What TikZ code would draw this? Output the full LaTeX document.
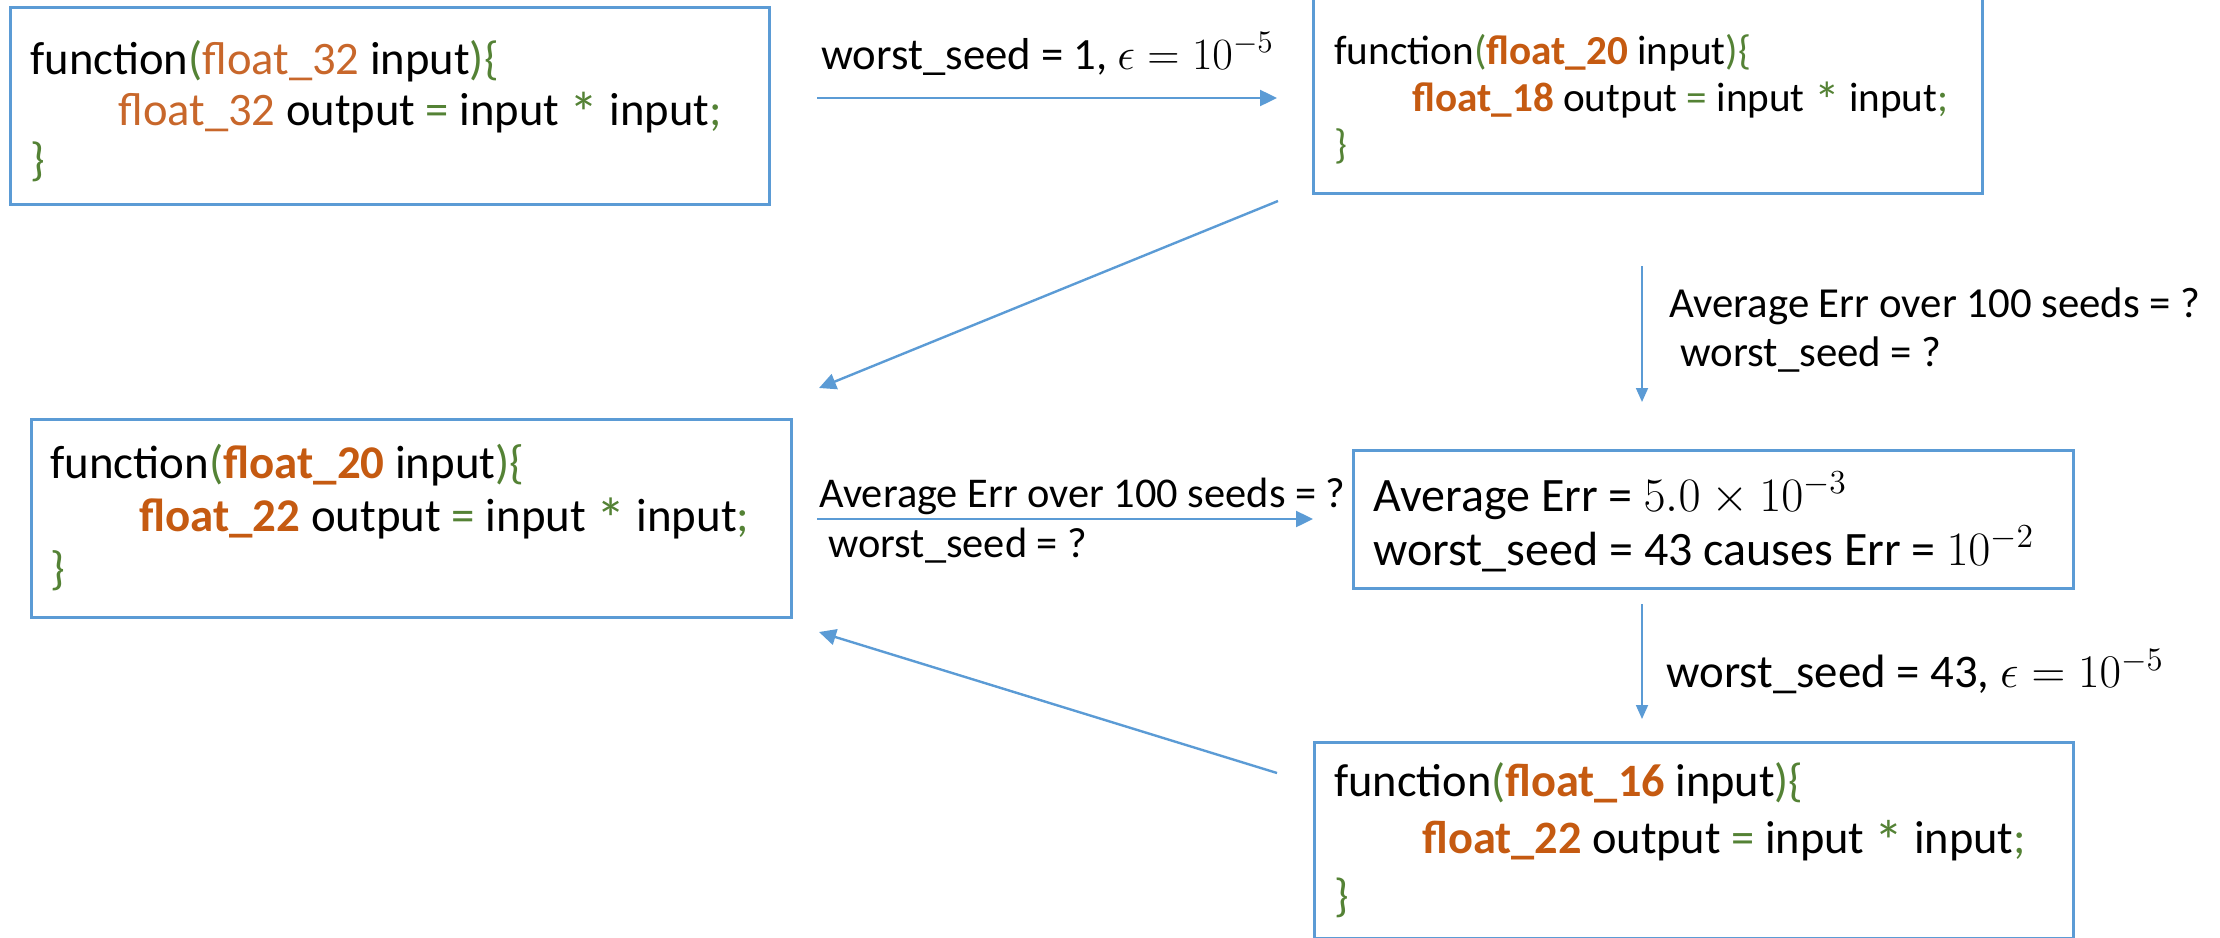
\RequirePackage{fix-cm}
\documentclass[tikz,border=0pt]{standalone}
\usepackage{fontspec}
\setmainfont{Carlito}
\usetikzlibrary{arrows.meta}
\definecolor{bl}{HTML}{5B9BD5}
\definecolor{grn}{HTML}{548235}
\definecolor{orgA}{HTML}{C8672B}
\definecolor{orgB}{HTML}{C55A11}
\newcommand{\gast}{{\color{grn}\raisebox{-0.17em}{\scalebox{1.25}{*}}}}
\begin{document}
\begin{tikzpicture}[x=0.5pt,y=-0.5pt,
  box/.style={draw=bl, line width=1.5pt, anchor=north west,
    inner sep=0pt, outer sep=0pt},
  code/.style={anchor=west, align=left, inner sep=0pt},
  arr/.style={draw=bl, line width=1.2pt, -{Triangle[length=8.5pt,width=8pt]}},
  varr/.style={draw=bl, line width=0.9pt, -{Triangle[length=7pt,width=6pt]}},
  lbl/.style={anchor=base west, inner sep=0pt}]
\useasboundingbox (0,0) rectangle (2220,937);
\clip (0,0) rectangle (2220,937);

% boxes
\node[box, minimum width=379.5pt, minimum height=98.5pt] (b1) at (10,7) {};
\node[box, minimum width=334.5pt, minimum height=99.5pt] (b2) at (1313,-6) {};
\node[box, minimum width=380pt, minimum height=99pt] (b3) at (31,419) {};
\node[box, minimum width=360pt, minimum height=69pt] (b4) at (1353,450) {};
\node[box, minimum width=379.5pt, minimum height=98pt] (b5) at (1314,742) {};

% box texts
\node[code, font=\fontsize{23.3}{25.3}\selectfont] (t1) at ([xshift=10pt,yshift=-3pt]b1.west)
  {function{\color{grn}(}{\color{orgA}float\_32} input{\color{grn})\{}\\
   \hspace*{44pt}{\color{orgA}float\_32} output {\color{grn}=} input \gast{} input{\color{grn};}\\
   {\color{grn}\}}};

\node[code, font=\fontsize{20.6}{23.4}\selectfont] (t2) at ([xshift=10.5pt,yshift=-3pt]b2.west)
  {function{\color{grn}(}{\color{orgB}\bfseries float\_20} input{\color{grn})\{}\\
   \hspace*{39pt}{\color{orgB}\bfseries float\_18} output {\color{grn}=} input \gast{} input{\color{grn};}\\
   {\color{grn}\}}};

\node[code, font=\fontsize{23.45}{26.5}\selectfont] (t3) at ([xshift=9.5pt]b3.west)
  {function{\color{grn}(}{\color{orgB}\bfseries float\_20} input{\color{grn})\{}\\
   \hspace*{44.5pt}{\color{orgB}\bfseries float\_22} output {\color{grn}=} input \gast{} input{\color{grn};}\\
   {\color{grn}\}}};

\node[code, font=\fontsize{24}{27}\selectfont] (t4) at ([xshift=10pt,yshift=-1.5pt]b4.west)
  {Average Err = $5.0\times10^{-3}$\\
   worst\_seed = 43 causes Err = $10^{-2}$};

\node[code, font=\fontsize{23.2}{28.7}\selectfont] (t5) at ([xshift=10pt]b5.west)
  {function{\color{grn}(}{\color{orgB}\bfseries float\_16} input{\color{grn})\{}\\
   \hspace*{44pt}{\color{orgB}\bfseries float\_22} output {\color{grn}=} input \gast{} input{\color{grn};}\\
   {\color{grn}\}}};

% connector end points
\coordinate (a1s) at (817,98);   \coordinate (a1e) at (1277,98);
\coordinate (a2s) at (1278,201); \coordinate (a2e) at (819,388);
\coordinate (a3s) at (1642,266); \coordinate (a3e) at (1642,402);
\coordinate (a4s) at (817,519);  \coordinate (a4e) at (1313,519);
\coordinate (a5s) at (1642,604); \coordinate (a5e) at (1642,719);
\coordinate (a6s) at (1277,773); \coordinate (a6e) at (819,632);

\draw[arr] (a1s) -- (a1e);
\draw[arr] (a2s) -- (a2e);
\draw[varr] (a3s) -- (a3e);
\draw[arr] (a4s) -- (a4e);
\draw[varr] (a5s) -- (a5e);
\draw[arr] (a6s) -- (a6e);

% labels
\node[lbl, font=\fontsize{22.35}{25}\selectfont] (l1) at (821,69)
  {worst\_seed = 1, $\epsilon = 10^{-5}$};
\node[lbl, font=\fontsize{21.4}{25}\selectfont] (l3a) at (1669,317)
  {Average Err over 100 seeds = ?};
\node[lbl, font=\fontsize{21.4}{25}\selectfont] (l3b) at (1680,366)
  {worst\_seed = ?};
\node[lbl, font=\fontsize{21.2}{25}\selectfont] (l4a) at (819,507)
  {Average Err over 100 seeds = ?};
\node[lbl, font=\fontsize{21.2}{25}\selectfont] (l4b) at (828,557)
  {worst\_seed = ?};
\node[lbl, font=\fontsize{23.4}{26}\selectfont] (l5) at (1666,687)
  {worst\_seed = 43, $\epsilon = 10^{-5}$};
\end{tikzpicture}
\end{document}
